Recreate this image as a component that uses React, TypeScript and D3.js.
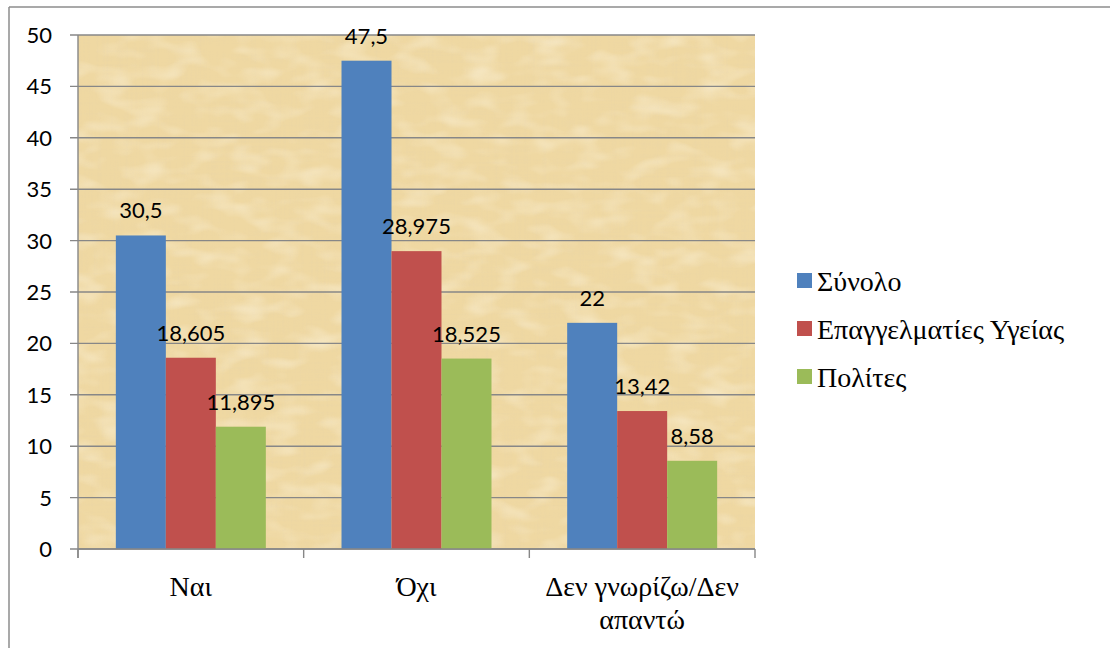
import React from "react";
import * as d3 from "d3";

const categories = ["Ναι", "Όχι", "Δεν γνωρίζω/Δεν απαντώ"];
const categoryLines = [["Ναι"], ["Όχι"], ["Δεν γνωρίζω/Δεν", "απαντώ"]];
const seriesNames = ["Σύνολο", "Επαγγελματίες Υγείας", "Πολίτες"];
const seriesColors = ["#4F81BD", "#C0504D", "#9BBB59"];
const totalValues = [30.5, 47.5, 22];
const professionalValues = [18.605, 28.975, 13.42];
const citizenValues = [11.895, 18.525, 8.58];
const yTicks = [0, 5, 10, 15, 20, 25, 30, 35, 40, 45, 50];

const seriesValues = [totalValues, professionalValues, citizenValues];

const W = 1110;
const H = 648;
const plot = { left: 78, right: 755, top: 35, bottom: 549 };

const labelFont = "'Lato'";
const serifFont = "'Liberation Serif', 'Tinos', 'Times New Roman', serif";

const fmt = (v: number) => String(v).replace(".", ",");

export default function App() {
  const x = d3.scaleBand<string>().domain(categories).range([plot.left, plot.right]).paddingInner(0).paddingOuter(0);
  const xs = d3
    .scaleBand<string>()
    .domain(seriesNames)
    .range([0, x.bandwidth()])
    .paddingInner(0)
    .paddingOuter(0.757);
  const y = d3.scaleLinear().domain([0, 50]).range([plot.bottom, plot.top]);

  const catEdges = [...categories.map((c) => x(c) as number), plot.right];
  const pw = plot.right - plot.left;
  const ph = plot.bottom - plot.top;

  return (
    <div style={{ position: "fixed", left: 0, top: 0, width: W, height: H, background: "#fff" }}>
      <svg width={W} height={H} style={{ display: "block", position: "absolute", left: 0, top: 0 }}>
        <defs>
          <filter id="papyrus" x="0" y="0" width="1" height="1">
            <feTurbulence type="fractalNoise" baseFrequency="0.01 0.45" numOctaves="3" seed="4" result="h" />
            <feTurbulence type="fractalNoise" baseFrequency="0.45 0.01" numOctaves="3" seed="9" result="v" />
            <feComposite in="h" in2="v" operator="arithmetic" k2="0.5" k3="0.5" result="n" />
            <feColorMatrix
              in="n"
              type="matrix"
              values="0 0 0 0 0.78  0 0 0 0 0.64  0 0 0 0 0.4  2.2 0 0 0 -1.0"
            />
          </filter>
          <filter id="papyrusLight" x="0" y="0" width="1" height="1">
            <feTurbulence type="fractalNoise" baseFrequency="0.03 0.06" numOctaves="2" seed="21" result="h" />
            <feColorMatrix
              in="h"
              type="matrix"
              values="0 0 0 0 1  0 0 0 0 0.96  0 0 0 0 0.84  -2.2 0 0 0 1.2"
            />
          </filter>
        </defs>

        {/* outer chart frame */}
        <line x1={9} x2={W} y1={7} y2={7} stroke="#8c8c8c" strokeWidth={1.5} />
        <line x1={9} x2={9} y1={7} y2={H} stroke="#8c8c8c" strokeWidth={1.5} />

        {/* plot area with papyrus texture */}
        <rect x={plot.left} y={plot.top} width={pw} height={ph} fill="#EFD8A2" />
        <rect x={plot.left} y={plot.top} width={pw} height={ph} fill="#fff" filter="url(#papyrus)" opacity={0.35} />
        <rect x={plot.left} y={plot.top} width={pw} height={ph} fill="#fff" filter="url(#papyrusLight)" opacity={0.4} />

        {/* gridlines and y ticks */}
        {yTicks.map((t) => (
          <g key={t}>
            <line x1={plot.left - 8} x2={plot.right} y1={y(t)} y2={y(t)} stroke="#878787" strokeWidth={1.4} />
            <text x={52} y={y(t) + 8} textAnchor="end" style={{ fontFamily: labelFont, fontSize: 22 }}>
              {t}
            </text>
          </g>
        ))}

        {/* y axis */}
        <line x1={plot.left} x2={plot.left} y1={plot.top} y2={plot.bottom + 9} stroke="#878787" strokeWidth={1.4} />

        {/* bars */}
        {seriesValues.map((vals, si) =>
          categories.map((c, ci) => {
            const bx = (x(c) as number) + (xs(seriesNames[si]) as number);
            return (
              <rect
                key={`${si}-${ci}`}
                x={bx}
                y={y(vals[ci])}
                width={xs.bandwidth()}
                height={plot.bottom - y(vals[ci])}
                fill={seriesColors[si]}
              />
            );
          })
        )}

        {/* x axis */}
        <line x1={plot.left} x2={plot.right} y1={plot.bottom} y2={plot.bottom} stroke="#878787" strokeWidth={1.4} />
        {catEdges.map((e, i) => (
          <line key={i} x1={e} x2={e} y1={plot.bottom} y2={plot.bottom + 9} stroke="#878787" strokeWidth={1.4} />
        ))}

        {/* data labels */}
        {seriesValues.map((vals, si) =>
          categories.map((c, ci) => {
            const cx = (x(c) as number) + (xs(seriesNames[si]) as number) + xs.bandwidth() / 2;
            return (
              <text
                key={`l-${si}-${ci}`}
                x={cx}
                y={y(vals[ci]) - 17}
                textAnchor="middle"
                style={{ fontFamily: labelFont, fontSize: 22 }}
              >
                {fmt(vals[ci])}
              </text>
            );
          })
        )}

        {/* legend swatches */}
        {seriesNames.map((s, i) => (
          <rect key={`lr-${s}`} x={797} y={273 + i * 48} width={15} height={15} fill={seriesColors[i]} />
        ))}
      </svg>

      {/* category labels */}
      {categories.map((c, ci) => (
        <div
          key={`c-${ci}`}
          lang="el"
          style={{
            position: "absolute",
            left: x(c) as number,
            top: 570,
            width: x.bandwidth(),
            textAlign: "center",
            fontFamily: serifFont,
            fontSize: 28,
            lineHeight: "33px",
            whiteSpace: "nowrap",
            color: "#000",
          }}
        >
          {categoryLines[ci].map((ln, li) => (
            <div key={li}>{ln}</div>
          ))}
        </div>
      ))}

      {/* legend labels */}
      {seriesNames.map((s, i) => (
        <div
          key={`lt-${s}`}
          lang="el"
          style={{
            position: "absolute",
            left: 817,
            top: 265 + i * 48,
            fontFamily: serifFont,
            fontSize: 28,
            lineHeight: "33px",
            whiteSpace: "nowrap",
            color: "#000",
          }}
        >
          {s}
        </div>
      ))}
    </div>
  );
}
